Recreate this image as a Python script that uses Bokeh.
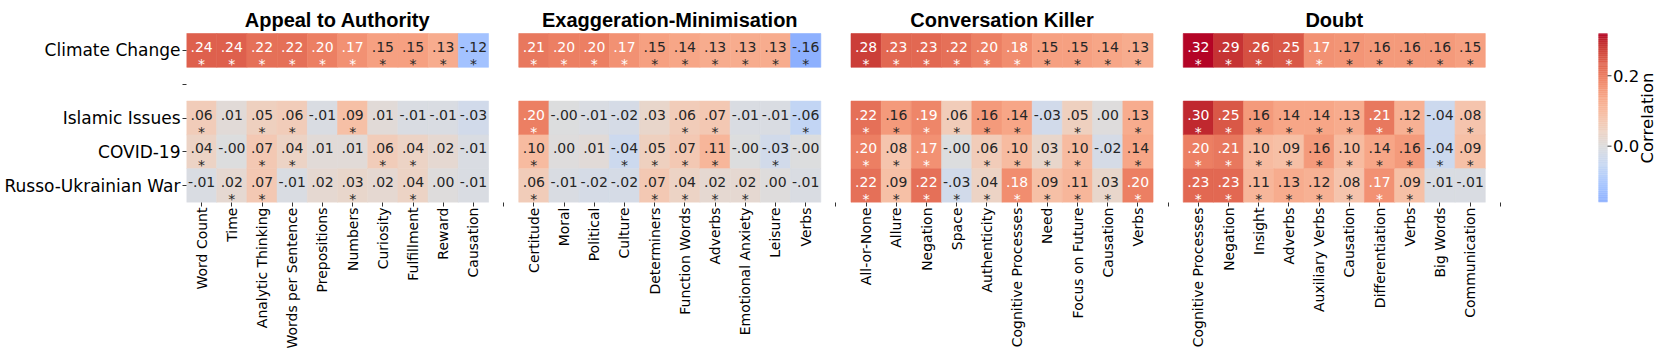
from math import pi
from bokeh.plotting import figure
from bokeh.models import Range1d, FixedTicker, ColumnDataSource
from bokeh.core.properties import value
from bokeh.embed import file_html
from bokeh.resources import INLINE

# ---------------- data ----------------
topics = ["Climate Change", "Islamic Issues", "COVID-19", "Russo-Ukrainian War"]
panel_titles = ["Appeal to Authority", "Exaggeration-Minimisation",
                "Conversation Killer", "Doubt"]

appeal_features = ["Word Count", "Time", "Analytic Thinking", "Words per Sentence",
                   "Prepositions", "Numbers", "Curiosity", "Fulfillment", "Reward", "Causation"]
appeal_values = [
    [0.24, 0.24, 0.22, 0.22, 0.20, 0.174, 0.15, 0.15, 0.13, -0.12],
    [0.06, 0.01, 0.05, 0.06, -0.01, 0.09, 0.01, -0.01, -0.01, -0.03],
    [0.04, -0.002, 0.07, 0.04, 0.01, 0.01, 0.06, 0.04, 0.02, -0.01],
    [-0.01, 0.02, 0.07, -0.01, 0.02, 0.03, 0.02, 0.04, 0.002, -0.01],
]
appeal_stars = ["1111111111", "1011010000", "1011001100", "0110010100"]

exagg_features = ["Certitude", "Moral", "Political", "Culture", "Determiners",
                  "Function Words", "Adverbs", "Emotional Anxiety", "Leisure", "Verbs"]
exagg_values = [
    [0.21, 0.20, 0.20, 0.174, 0.15, 0.14, 0.13, 0.13, 0.13, -0.16],
    [0.20, -0.002, -0.01, -0.02, 0.03, 0.06, 0.07, -0.01, -0.01, -0.06],
    [0.10, 0.002, 0.01, -0.04, 0.05, 0.07, 0.11, -0.002, -0.03, -0.002],
    [0.06, -0.01, -0.02, -0.02, 0.07, 0.04, 0.02, 0.02, 0.002, -0.01],
]
exagg_stars = ["1111111111", "1000011001", "1001111010", "1000111100"]

convo_features = ["All-or-None", "Allure", "Negation", "Space", "Authenticity",
                  "Cognitive Processes", "Need", "Focus on Future", "Causation", "Verbs"]
convo_values = [
    [0.28, 0.23, 0.23, 0.22, 0.20, 0.18, 0.15, 0.15, 0.14, 0.13],
    [0.22, 0.16, 0.19, 0.06, 0.16, 0.14, -0.03, 0.05, 0.002, 0.13],
    [0.20, 0.08, 0.174, -0.002, 0.06, 0.10, 0.03, 0.10, -0.02, 0.14],
    [0.22, 0.09, 0.22, -0.03, 0.04, 0.18, 0.09, 0.11, 0.03, 0.20],
]
convo_stars = ["1111111111", "1111110101", "1110111101", "1111111111"]

doubt_features = ["Cognitive Processes", "Negation", "Insight", "Adverbs", "Auxiliary Verbs",
                  "Causation", "Differentiation", "Verbs", "Big Words", "Communication"]
doubt_values = [
    [0.32, 0.29, 0.26, 0.25, 0.174, 0.168, 0.16, 0.16, 0.16, 0.15],
    [0.30, 0.25, 0.16, 0.14, 0.14, 0.13, 0.21, 0.12, -0.04, 0.08],
    [0.20, 0.21, 0.10, 0.09, 0.16, 0.10, 0.14, 0.16, -0.04, 0.09],
    [0.23, 0.23, 0.11, 0.13, 0.12, 0.08, 0.174, 0.09, -0.01, -0.01],
]
doubt_stars = ["1111111111", "1111111101", "1111111111", "1111111100"]

panels = [
    (appeal_features, appeal_values, appeal_stars),
    (exagg_features, exagg_values, exagg_stars),
    (convo_features, convo_values, convo_stars),
    (doubt_features, doubt_values, doubt_stars),
]
topic_rows = [0, 2, 3, 4]   # row 1 is an empty spacer row

# ---------------- colour map (coolwarm) ----------------
CW = [(59, 76, 192), (68, 90, 204), (77, 104, 215), (87, 117, 225), (98, 130, 234),
      (108, 142, 241), (119, 154, 247), (130, 165, 251), (141, 176, 254), (152, 185, 255),
      (163, 194, 255), (174, 201, 253), (184, 208, 249), (194, 213, 244), (204, 217, 238),
      (213, 219, 230), (221, 221, 221), (229, 216, 209), (236, 211, 197), (241, 204, 185),
      (245, 196, 173), (247, 187, 160), (247, 177, 148), (247, 166, 135), (244, 154, 123),
      (241, 141, 111), (236, 127, 99), (229, 112, 88), (222, 96, 77), (213, 80, 66),
      (203, 62, 56), (192, 40, 47), (180, 4, 38)]


def cw_rgb(t):
    t = min(max(t, 0.0), 1.0)
    f = t * (len(CW) - 1)
    i = min(int(f), len(CW) - 2)
    a = f - i
    return tuple(CW[i][k] + (CW[i + 1][k] - CW[i][k]) * a for k in range(3))


def hexcol(rgb):
    return "#%02x%02x%02x" % tuple(int(round(c)) for c in rgb)


def lum(rgb):
    out = []
    for c in rgb:
        c = c / 255.0
        out.append(c / 12.92 if c <= 0.03928 else ((c + 0.055) / 1.055) ** 2.4)
    return 0.2126 * out[0] + 0.7152 * out[1] + 0.0722 * out[2]


all_vals = [v for _, vals, _ in panels for row in vals for v in row]
vmin, vmax = min(all_vals), max(all_vals)
vr = max(abs(vmin), abs(vmax))


def norm(v):
    return (v + vr) / (2 * vr)


def fmt(v):
    return ("%.2f" % v).replace("0.", ".", 1)


# ---------------- build sources ----------------
cells = dict(l=[], r=[], t=[], b=[], c=[])
nums = dict(x=[], y=[], s=[], c=[])
stars = dict(x=[], y=[], s=[], c=[])
xticks, xlabels = [], {}
for p_i, (feats, vals, sts) in enumerate(panels):
    base = p_i * 11
    for j, f in enumerate(feats):
        xc = base + j + 0.5
        xticks.append(xc)
        xlabels[xc] = f
        for r_i, row in enumerate(topic_rows):
            v = vals[r_i][j]
            rgb = cw_rgb(norm(v))
            col = hexcol(rgb)
            tcol = "#262626" if lum(rgb) > 0.408 else "#ffffff"
            cells["l"].append(base + j)
            cells["r"].append(base + j + 1)
            cells["t"].append(row)
            cells["b"].append(row + 1)
            cells["c"].append(col)
            nums["x"].append(xc)
            nums["y"].append(row + 0.402)
            nums["s"].append(fmt(v))
            nums["c"].append(tcol)
            if sts[r_i][j] == "1":
                stars["x"].append(xc)
                stars["y"].append(row + 0.90)
                stars["s"].append("*")
                stars["c"].append(tcol)
    gap = base + 10.5
    xticks.append(gap)
    xlabels[gap] = ""

# ---------------- geometry (page pixels) ----------------
W, H = 1661, 355
frame_l, frame_r = 186, 1661
frame_t, heat_t, heat_b = 0, 33, 202
col_px = (1515 - 186) / 44.0
row_px = (heat_b - heat_t) / 5.0


def xpx(px):
    return (px - frame_l) / col_px


def ypx(py):
    return (py - heat_t) / row_px


cb_per_px = (vmax - vmin) / (heat_b - heat_t)

p = figure(width=W, height=H,
           x_range=Range1d(0, xpx(frame_r)), y_range=Range1d(5, ypx(frame_t)),
           output_backend="svg", toolbar_location=None,
           min_border_left=frame_l, min_border_right=0, min_border_top=frame_t,
           min_border_bottom=H - heat_b)
p.extra_y_ranges = {"cbar": Range1d(vmin, vmax + (heat_t - frame_t) * cb_per_px)}
p.grid.visible = False
p.outline_line_color = None
p.background_fill_color = "white"
p.border_fill_color = "white"

p.quad(left="l", right="r", top="t", bottom="b", fill_color="c", line_color="c",
       line_width=0.6, source=ColumnDataSource(cells))
p.text(x="x", y="y", text="s", text_color="c", source=ColumnDataSource(nums),
       text_font=value("DejaVu Sans"), text_font_size="14px",
       text_align="center", text_baseline="alphabetic")
p.text(x="x", y="y", text="s", text_color="c", source=ColumnDataSource(stars),
       text_font=value("DejaVu Sans"), text_font_size="14px",
       text_align="center", text_baseline="alphabetic")

# colour bar
N = 256
dv = (vmax - vmin) / N
cb = dict(b=[], t=[], c=[])
for i in range(N):
    lo = vmin + i * dv
    cb["b"].append(lo)
    cb["t"].append(min(lo + dv * 1.6, vmax))
    cb["c"].append(hexcol(cw_rgb(norm(lo + dv / 2))))
cb_left, cb_right = xpx(1598), xpx(1607)
p.quad(left=cb_left, right=cb_right, bottom="b", top="t", fill_color="c", line_color=None,
       source=ColumnDataSource(cb), y_range_name="cbar")
cb_ticks = [0.0, 0.2]
p.segment(x0=cb_right, x1=xpx(1611), y0=cb_ticks, y1=cb_ticks, line_color="#333333",
          line_width=1, y_range_name="cbar")
p.text(x=xpx(1612.5), y=cb_ticks, text=["%.1f" % t for t in cb_ticks], text_color="#000000",
       text_font=value("DejaVu Sans"), text_font_size="16.5px", text_align="left",
       text_baseline="middle", y_range_name="cbar")
p.text(x=[xpx(1647)], y=[(vmin + vmax) / 2], text=["Correlation"], angle=pi / 2,
       text_align="center", text_baseline="middle", text_color="#000000",
       text_font=value("DejaVu Sans"), text_font_size="16.5px", y_range_name="cbar")

# panel titles
p.text(x=[i * 11 + 5 for i in range(len(panel_titles))], y=[ypx(19)] * len(panel_titles),
       text=panel_titles, text_align="center", text_baseline="alphabetic",
       text_font=value("Liberation Sans"), text_font_size="20px", text_font_style="bold",
       text_color="#000000")

# axes
p.xaxis.ticker = FixedTicker(ticks=xticks)
p.xaxis.major_label_overrides = xlabels
p.xaxis.major_label_orientation = pi / 2
p.xaxis.major_label_text_font = "DejaVu Sans"
p.xaxis.major_label_text_font_size = "14px"
p.xaxis.major_label_standoff = 1

yticks = [0.5, 1.5, 2.5, 3.5, 4.5]
ylabels = {0.5: topics[0], 1.5: "", 2.5: topics[1], 3.5: topics[2], 4.5: topics[3]}
p.yaxis.ticker = FixedTicker(ticks=yticks)
p.yaxis.major_label_overrides = ylabels
p.yaxis.major_label_text_font = "DejaVu Sans"
p.yaxis.major_label_text_font_size = "17px"
p.yaxis.major_label_standoff = 2

for ax in (p.xaxis[0], p.yaxis[0]):
    ax.axis_line_color = None
    ax.minor_tick_line_color = None
    ax.major_tick_in = 0
    ax.major_tick_out = 4
    ax.major_tick_line_color = "#333333"
    ax.major_label_text_color = "#000000"

open("out.html", "w").write(file_html(p, INLINE))
